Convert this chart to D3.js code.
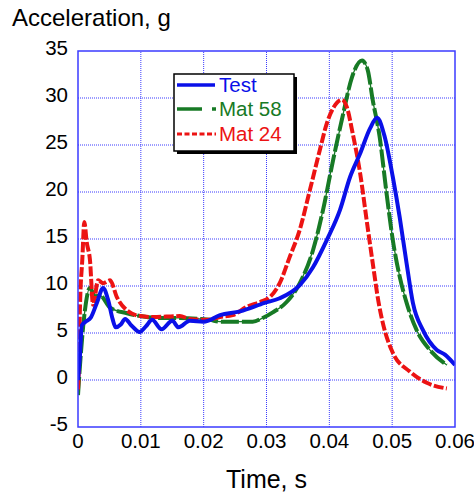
<!DOCTYPE html>
<html lang="en">
<head>
    <meta charset="UTF-8" />
    <script src="https://d3js.org/d3.v7.min.js"></script>
    <title>Acceleration vs time</title>
    <style>
        body { margin: 0; background: #fff; }
        text { font-family: Arial, "Liberation Sans", sans-serif; }
    </style>
</head>
<body>
    <script>
        // values (time in s, acceleration in g)
        var testT = [0, 0.0003, 0.0006, 0.0012, 0.002, 0.003, 0.004, 0.0048, 0.0055, 0.006, 0.0068, 0.0075, 0.0085, 0.0098, 0.0108, 0.0118, 0.0133, 0.015, 0.016, 0.0178, 0.02, 0.0226, 0.0258, 0.0297, 0.0321, 0.0353, 0.0374, 0.0396, 0.0417, 0.0433, 0.0449, 0.0465, 0.0476, 0.0488, 0.0501, 0.0512, 0.0523, 0.0533, 0.0549, 0.0571, 0.0584, 0.06];
        var testV = [0, 2.5, 5.8, 6.2, 6.6, 8.2, 9.8, 8.5, 6.5, 5.6, 5.9, 6.5, 5.8, 5.1, 5.7, 6.4, 5.4, 6.3, 5.6, 6.3, 6.2, 6.9, 7.3, 8.2, 8.7, 10.1, 12.0, 14.9, 18.1, 21.6, 24.1, 26.8, 27.9, 25.9, 21.6, 17.3, 12.4, 8.2, 5.3, 3.2, 2.7, 1.6];

        var mat58T = [0, 0.0003, 0.0011, 0.0019, 0.0027, 0.0035, 0.0051, 0.0078, 0.0099, 0.013, 0.0162, 0.0194, 0.021, 0.0226, 0.0242, 0.0278, 0.0294, 0.031, 0.0332, 0.0353, 0.0374, 0.039, 0.0406, 0.0421, 0.0436, 0.0452, 0.0461, 0.0469, 0.048, 0.0491, 0.0501, 0.0512, 0.0523, 0.0539, 0.056, 0.0587];
        var mat58V = [-1.6, 1.4, 7.4, 9.8, 8.9, 9.0, 7.7, 7.1, 6.8, 6.6, 6.6, 6.5, 6.4, 6.2, 6.2, 6.2, 6.6, 7.2, 8.3, 10.3, 13.8, 18.1, 23.4, 28.0, 32.2, 34.0, 33.0, 29.8, 25.9, 19.9, 14.9, 11.0, 8.2, 5.3, 3.2, 1.6];

        var mat24T = [0, 0.0002, 0.0003, 0.0007, 0.001, 0.0014, 0.0019, 0.0024, 0.0032, 0.004, 0.0051, 0.0062, 0.0078, 0.0099, 0.0119, 0.0162, 0.0178, 0.0205, 0.0226, 0.0246, 0.0269, 0.029, 0.0305, 0.0321, 0.0337, 0.0353, 0.0369, 0.0385, 0.0396, 0.0406, 0.042, 0.0428, 0.0437, 0.0449, 0.046, 0.047, 0.0478, 0.0485, 0.0501, 0.0528, 0.0555, 0.0587];
        var mat24V = [-1.0, 3.0, 7.4, 13.0, 16.8, 14.6, 12.8, 8.0, 10.6, 10.3, 10.6, 8.8, 7.4, 6.8, 6.7, 6.8, 6.5, 6.4, 6.7, 6.9, 7.8, 8.3, 8.8, 10.3, 13.1, 16.0, 20.2, 24.5, 27.3, 28.9, 29.8, 29.0, 26.3, 22.0, 16.7, 12.0, 8.4, 6.1, 2.9, 0.9, -0.3, -0.9];

        var xTicks = [0, 0.01, 0.02, 0.03, 0.04, 0.05, 0.06];
        var yTicks = [-5, 0, 5, 10, 15, 20, 25, 30, 35];
        var seriesNames = ["Test", "Mat 58", "Mat 24"];

        var width = 474, height = 494;
        var margin = { left: 78, right: 19, top: 51, bottom: 67 };
        var gridColor = "#3b3bff";

        var svg = d3.select("body").append("svg")
            .attr("width", width)
            .attr("height", height);

        var x = d3.scaleLinear().domain([0, 0.06]).range([margin.left, width - margin.right]);
        var y = d3.scaleLinear().domain([-5, 35]).range([height - margin.bottom, margin.top]);

        // dotted grid
        svg.append("g").selectAll("line").data(xTicks.slice(1, -1)).enter().append("line")
            .attr("x1", d => x(d)).attr("x2", d => x(d))
            .attr("y1", y(-5)).attr("y2", y(35))
            .attr("stroke", gridColor).attr("stroke-width", 1).attr("stroke-dasharray", "1,1");
        svg.append("g").selectAll("line").data(yTicks.slice(1, -1)).enter().append("line")
            .attr("x1", x(0)).attr("x2", x(0.06))
            .attr("y1", d => y(d)).attr("y2", d => y(d))
            .attr("stroke", gridColor).attr("stroke-width", 1).attr("stroke-dasharray", "1,1");

        // tick labels
        svg.append("g").selectAll("text").data(xTicks).enter().append("text")
            .attr("x", d => x(d)).attr("y", y(-5) + 21)
            .attr("text-anchor", "middle").attr("font-size", 20.5)
            .text(d => d === 0 ? "0" : d.toFixed(2));
        svg.append("g").selectAll("text").data(yTicks).enter().append("text")
            .attr("x", x(0) - 10).attr("y", d => y(d) + 4)
            .attr("text-anchor", "end").attr("font-size", 20.5)
            .text(d => d);

        // curves
        svg.append("clipPath").attr("id", "plotclip").append("rect")
            .attr("x", x(0)).attr("y", y(35)).attr("width", x(0.06) - x(0)).attr("height", y(-5) - y(35));

        var line = d3.line().x(d => x(d[0])).y(d => y(d[1])).curve(d3.curveMonotoneX);
        var plot = svg.append("g").attr("clip-path", "url(#plotclip)");

        var mat58 = d3.zip(mat58T, mat58V);
        var mat24 = d3.zip(mat24T, mat24V);
        var test = d3.zip(testT, testV);

        var green = "#177a25", red = "#ec1313", blue = "#0a10e8";

        plot.append("path").attr("d", line(mat58)).attr("fill", "none")
            .attr("stroke", green).attr("stroke-width", 1.3);
        plot.append("path").attr("d", line(mat58)).attr("fill", "none")
            .attr("stroke", green).attr("stroke-width", 4).attr("stroke-dasharray", "18,3");
        plot.append("path").attr("d", line(mat24)).attr("fill", "none")
            .attr("stroke", red).attr("stroke-width", 4).attr("stroke-dasharray", "10,2.5");
        plot.append("path").attr("d", line(test)).attr("fill", "none")
            .attr("stroke", blue).attr("stroke-width", 4).attr("stroke-linejoin", "round");

        // frame
        svg.append("rect")
            .attr("x", x(0)).attr("y", y(35))
            .attr("width", x(0.06) - x(0)).attr("height", y(-5) - y(35))
            .attr("fill", "none").attr("stroke", gridColor).attr("stroke-width", 1.5);

        // axis titles
        svg.append("text").attr("x", 12).attr("y", 26).attr("font-size", 24).text("Acceleration, g");
        svg.append("text").attr("x", (x(0) + x(0.06)) / 2).attr("y", 488)
            .attr("text-anchor", "middle").attr("font-size", 25).text("Time, s");

        // legend
        var lg = svg.append("g").attr("transform", "translate(174,74)");
        lg.append("rect").attr("x", 3).attr("y", 3).attr("width", 120).attr("height", 77).attr("fill", "#000");
        lg.append("rect").attr("width", 120).attr("height", 77).attr("fill", "#fff")
            .attr("stroke", "#000").attr("stroke-width", 1.5);

        var colors = [blue, green, red];
        var rowY = [11, 35, 60];
        seriesNames.forEach(function (name, i) {
            var g = lg.append("g").attr("transform", "translate(0," + rowY[i] + ")");
            if (i === 0) {
                g.append("line").attr("x1", 3).attr("x2", 41).attr("stroke", blue).attr("stroke-width", 3.5);
            } else if (i === 1) {
                g.append("line").attr("x1", 3).attr("x2", 28).attr("stroke", green).attr("stroke-width", 3.5);
                g.append("line").attr("x1", 38).attr("x2", 42).attr("stroke", green).attr("stroke-width", 3.5);
            } else {
                g.append("line").attr("x1", 3).attr("x2", 42).attr("stroke", red).attr("stroke-width", 3)
                    .attr("stroke-dasharray", "5,2.5");
            }
            g.append("text").attr("x", 45).attr("y", 7).attr("font-size", 20.5)
                .attr("fill", colors[i]).text(name);
        });
    </script>
</body>
</html>
